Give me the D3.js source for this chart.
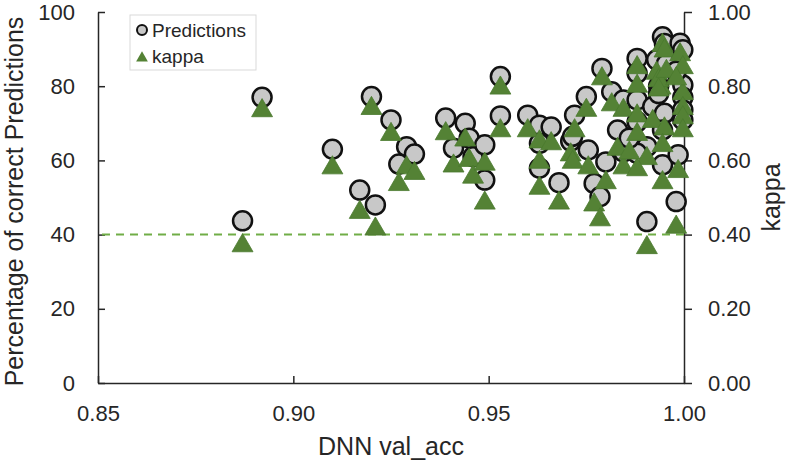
<!DOCTYPE html>
<html>
<head>
<meta charset="utf-8">
<script src="https://cdn.jsdelivr.net/npm/d3@7"></script>
<style>
  body { margin: 0; background: #fff; }
  svg { display: block; font-family: "Liberation Sans", Arial, sans-serif; }
  .axis path, .axis line { stroke: #262626; stroke-width: 1.5px; }
  .axis text { fill: #262626; font-size: 22px; }
</style>
</head>
<body>
<div class="chart"></div>
<script>
// DNN validation accuracy of each model
var valAcc = [0.887, 0.892, 0.910, 0.917, 0.921, 0.920, 0.925, 0.929, 0.931, 0.927,
              0.939, 0.944, 0.941, 0.945, 0.946, 0.949, 0.949, 0.953, 0.953, 0.960,
              0.963, 0.966, 0.963, 0.963, 0.968, 0.972, 0.971, 0.9715, 0.975, 0.9755,
              0.977, 0.9785, 0.980, 0.979, 0.988, 0.9815, 0.9845, 0.988, 0.988, 0.993,
              0.994, 0.992, 0.995, 0.9945, 0.983, 0.988, 0.9905, 0.9845, 0.988, 0.9905,
              0.9945, 0.998, 0.9985, 0.9945, 0.995, 0.999, 0.9997, 0.9997, 0.9997, 0.9997,
              0.9997, 0.9935, 0.9935, 0.986, 0.9955, 0.998];
// percentage of correct predictions
var predictions = [43.7, 77.0, 63.0, 52.0, 48.0, 77.2, 70.9, 63.7, 61.7, 59.0,
                   71.4, 70.0, 63.3, 66.0, 61.0, 64.2, 54.7, 72.0, 82.6, 72.2,
                   69.5, 69.0, 64.6, 57.9, 54.0, 72.2, 65.2, 66.5, 77.2, 62.8,
                   53.8, 50.2, 59.6, 84.8, 87.5, 78.5, 76.3, 76.3, 83.5, 87.1,
                   83.0, 74.5, 72.7, 68.2, 68.2, 70.4, 63.7, 62.3, 61.9, 43.5,
                   58.8, 48.9, 61.5, 93.3, 91.5, 91.6, 89.8, 80.3, 77.0, 73.6,
                   70.9, 80.0, 78.0, 66.0, 86.0, 84.0];
// kappa of each model
var kappa = [0.37, 0.734, 0.58, 0.46, 0.415, 0.74, 0.67, 0.58, 0.565, 0.535,
             0.672, 0.655, 0.585, 0.60, 0.555, 0.59, 0.485, 0.68, 0.795, 0.68,
             0.65, 0.645, 0.595, 0.525, 0.485, 0.68, 0.615, 0.595, 0.735, 0.58,
             0.48, 0.44, 0.54, 0.82, 0.85, 0.75, 0.735, 0.72, 0.80, 0.835,
             0.795, 0.705, 0.685, 0.64, 0.63, 0.67, 0.605, 0.58, 0.575, 0.365,
             0.54, 0.42, 0.57, 0.91, 0.895, 0.885, 0.85, 0.78, 0.74, 0.715,
             0.68, 0.815, 0.79, 0.62, 0.84, 0.82];

var xTicks = [0.85, 0.90, 0.95, 1.00],
    yTicks = [0, 20, 40, 60, 80, 100],
    kappaTicks = [0, 0.2, 0.4, 0.6, 0.8, 1.0],
    kappaLimit = 0.40;

var margin = {left: 98, top: 12, right: 116, bottom: 80},
    outerWidth = 800,
    outerHeight = 463,
    width = outerWidth - margin.left - margin.right,
    height = outerHeight - margin.top - margin.bottom;

var data = valAcc.map(function(d, i) {
  return {acc: d, pred: predictions[i], kappa: kappa[i]};
});

var xScale = d3.scaleLinear().domain([0.85, 1.00]).range([0, width]),
    yScale = d3.scaleLinear().domain([0, 100]).range([height, 0]),
    kScale = d3.scaleLinear().domain([0, 1]).range([height, 0]);

var svg = d3.select(".chart").append("svg")
    .attr("width", outerWidth)
    .attr("height", outerHeight)
  .append("g")
    .attr("transform", "translate(" + margin.left + "," + margin.top + ")");

// axes
svg.append("g")
    .attr("class", "axis")
    .attr("transform", "translate(0," + height + ")")
    .call(d3.axisBottom(xScale).tickValues(xTicks).tickFormat(d3.format(".2f"))
      .tickSizeInner(-7).tickSizeOuter(0).tickPadding(22));

svg.append("g")
    .attr("class", "axis")
    .call(d3.axisLeft(yScale).tickValues(yTicks).tickFormat(d3.format("d"))
      .tickSizeInner(-7).tickSizeOuter(0).tickPadding(23));

svg.append("g")
    .attr("class", "axis")
    .attr("transform", "translate(" + width + ",0)")
    .call(d3.axisRight(kScale).tickValues(kappaTicks).tickFormat(d3.format(".2f"))
      .tickSizeInner(8).tickSizeOuter(0).tickPadding(16));

svg.selectAll(".axis .domain").attr("stroke-width", 2);

// kappa = 0.40 reference
svg.append("line")
    .attr("x1", 4)
    .attr("x2", width)
    .attr("y1", kScale(kappaLimit))
    .attr("y2", kScale(kappaLimit))
    .style("stroke", "#70ad47")
    .style("stroke-width", 2)
    .style("stroke-dasharray", "8,6");

// points: circles first, triangles on top
svg.selectAll(".pred")
    .data(data)
  .enter().append("circle")
    .attr("class", "pred")
    .attr("cx", function(d) { return xScale(d.acc); })
    .attr("cy", function(d) { return yScale(d.pred); })
    .attr("r", 9.5)
    .style("fill", "#c8c8c8")
    .style("stroke", "#111")
    .style("stroke-width", 2.5);

var tri = d3.symbol().type(d3.symbolTriangle).size(190);

svg.selectAll(".kap")
    .data(data)
  .enter().append("path")
    .attr("class", "kap")
    .attr("d", tri)
    .attr("transform", function(d) {
      return "translate(" + xScale(d.acc) + "," + kScale(d.kappa) + ")";
    })
    .style("fill", "#548235")
    .style("stroke", "#4a7a2e")
    .style("stroke-width", 0.8);

// axis titles
svg.append("text")
    .attr("x", width / 2)
    .attr("y", height + 72)
    .attr("text-anchor", "middle")
    .style("font-size", "25px")
    .style("fill", "#262626")
    .text("DNN val_acc");

svg.append("text")
    .attr("transform", "translate(" + (23 - margin.left) + "," + (height / 2 + 4) + ") rotate(-90)")
    .attr("text-anchor", "middle")
    .style("font-size", "25px")
    .style("fill", "#262626")
    .text("Percentage of correct Predictions");

svg.append("text")
    .attr("transform", "translate(" + (width + 96) + "," + (height / 2) + ") rotate(-90)")
    .attr("text-anchor", "middle")
    .style("font-size", "25px")
    .style("fill", "#262626")
    .text("kappa");

// legend
var legend = svg.append("g")
    .attr("transform", "translate(" + (130 - margin.left) + "," + (15 - margin.top) + ")");

legend.append("rect")
    .attr("width", 126)
    .attr("height", 55)
    .style("fill", "#fff")
    .style("stroke", "#d9d9d9");

legend.append("circle")
    .attr("cx", 12)
    .attr("cy", 15)
    .attr("r", 5)
    .style("fill", "#c8c8c8")
    .style("stroke", "#111")
    .style("stroke-width", 2);

legend.append("path")
    .attr("d", d3.symbol().type(d3.symbolTriangle).size(60))
    .attr("transform", "translate(12,43)")
    .style("fill", "#548235");

legend.append("text")
    .attr("x", 22)
    .attr("y", 15)
    .attr("dy", "0.35em")
    .style("font-size", "19px")
    .style("fill", "#262626")
    .text("Predictions");

legend.append("text")
    .attr("x", 22)
    .attr("y", 41)
    .attr("dy", "0.35em")
    .style("font-size", "19px")
    .style("fill", "#262626")
    .text("kappa");
</script>
</body>
</html>
